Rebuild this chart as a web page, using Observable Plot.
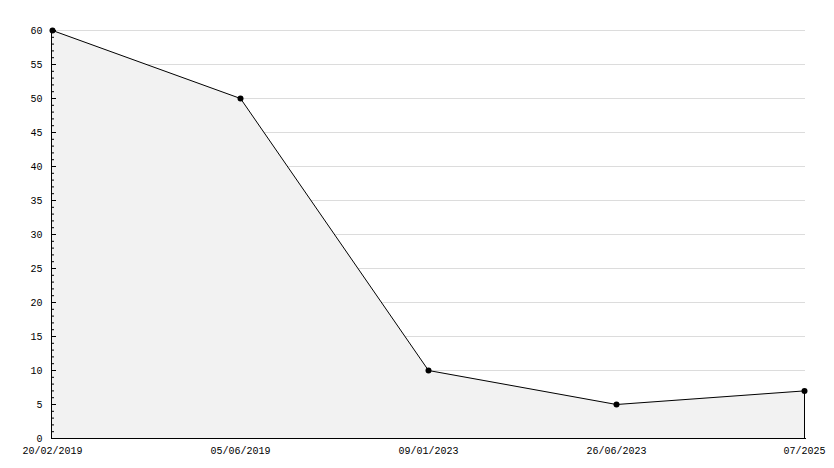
<!DOCTYPE html>
<html>
<head>
<meta charset="utf-8">
<script src="https://cdn.jsdelivr.net/npm/d3@7"></script>
<script src="https://cdn.jsdelivr.net/npm/@observablehq/plot@0.6"></script>
<style>
  html, body { margin: 0; padding: 0; background: #fff; }
  #chart svg { display: block; }
</style>
</head>
<body>
<div id="chart"></div>
<script>
const dates = ["20/02/2019", "05/06/2019", "09/01/2023", "26/06/2023", "07/2025"];
const values = [60, 50, 10, 5, 7];
const majorTicks = [0, 5, 10, 15, 20, 25, 30, 35, 40, 45, 50, 55, 60];
const minorTicks = d3.range(0, 61).filter(v => v % 5 !== 0);

const data = dates.map((d, i) => ({date: d, value: values[i]}));
const font = "Liberation Mono, DejaVu Sans Mono, monospace";

const chart = Plot.plot({
  width: 834,
  height: 468,
  marginLeft: 51,
  marginRight: 29,
  marginTop: 30,
  marginBottom: 30,
  style: {fontFamily: font, fontSize: "10px", background: "#fff", color: "#000"},
  x: {type: "point", domain: dates, padding: 0},
  y: {domain: [0, 60]},
  marks: [
    Plot.ruleY(majorTicks.filter(v => v > 0), {stroke: "#dcdcdc", strokeWidth: 1}),
    Plot.areaY(data, {x: "date", y: "value", fill: "#f2f2f2"}),
    Plot.lineY(data, {x: "date", y: "value", stroke: "#000", strokeWidth: 1}),
    Plot.ruleX(data.slice(-1), {x: "date", y1: 0, y2: "value", stroke: "#000"}),
    Plot.ruleX(data.slice(0, 1), {x: "date", y1: 0, y2: 60, stroke: "#000", dx: -1}),
    Plot.frame({anchor: "bottom", stroke: "#000"}),
    Plot.axisY(minorTicks, {tickSize: -3, text: null, stroke: "#000", label: null}),
    Plot.axisY(majorTicks, {tickSize: -5, text: null, stroke: "#000", label: null}),
    Plot.axisY(majorTicks, {tickSize: 0, tickPadding: 9, label: null, fontSize: 10, fill: "#000"}),
    Plot.axisX({tickSize: 0, tickPadding: 8, label: null, fontSize: 10, fill: "#000"}),
    Plot.dot(data, {x: "date", y: "value", r: 3, fill: "#000", stroke: null})
  ]
});
document.getElementById("chart").appendChild(chart);
</script>
</body>
</html>
